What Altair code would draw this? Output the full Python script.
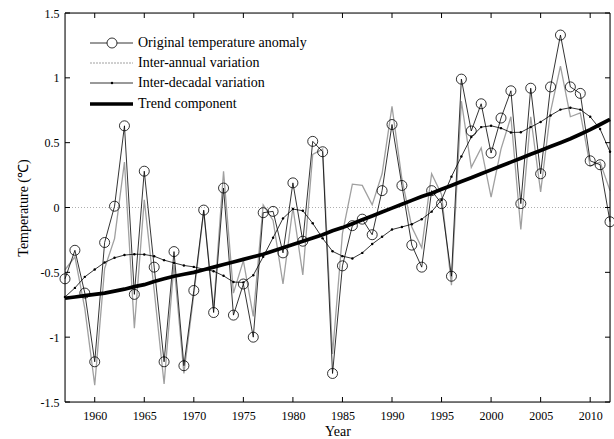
import altair as alt
import pandas as pd

years = list(range(1957, 2013))

original = [-0.55, -0.33, -0.66, -1.19, -0.27, 0.01, 0.63, -0.67, 0.28, -0.46,
            -1.19, -0.34, -1.22, -0.64, -0.02, -0.81, 0.15, -0.83, -0.59, -1.00,
            -0.04, -0.03, -0.35, 0.19, -0.26, 0.51, 0.43, -1.28, -0.45, -0.14,
            -0.09, -0.21, 0.13, 0.64, 0.17, -0.29, -0.46, 0.13, 0.03, -0.53,
            0.99, 0.59, 0.80, 0.42, 0.69, 0.90, 0.03, 0.92, 0.26, 0.93,
            1.33, 0.93, 0.88, 0.36, 0.33, -0.11]

inter_annual = [-0.48, -0.38, -0.78, -1.37, -0.47, -0.24, 0.35, -0.93, 0.06, -0.64,
                -1.36, -0.44, -1.28, -0.67, -0.03, -0.78, 0.28, -0.66, -0.41, -0.84,
                0.02, -0.10, -0.59, 0.00, -0.52, 0.41, 0.45, -1.13, -0.20, 0.18,
                0.17, 0.02, 0.26, 0.78, 0.22, -0.15, -0.31, 0.26, 0.10, -0.60,
                0.82, 0.31, 0.46, 0.08, 0.45, 0.70, -0.17, 0.70, 0.12, 0.74,
                1.09, 0.70, 0.73, 0.32, 0.35, 0.13]

inter_decadal = [-0.69, -0.62, -0.535, -0.478, -0.424, -0.388, -0.367, -0.36, -0.362, -0.376,
                 -0.406, -0.427, -0.447, -0.458, -0.476, -0.491, -0.527, -0.575, -0.578, -0.522,
                 -0.38, -0.233, -0.084, -0.012, -0.025, -0.122, -0.238, -0.338, -0.375, -0.393,
                 -0.35, -0.282, -0.226, -0.17, -0.15, -0.129, -0.09, -0.032, 0.058, 0.238,
                 0.393, 0.543, 0.62, 0.63, 0.612, 0.579, 0.58, 0.62, 0.66, 0.71,
                 0.755, 0.77, 0.755, 0.70, 0.605, 0.43]

trend = [-0.70, -0.69, -0.68, -0.67, -0.66, -0.645, -0.63, -0.61, -0.595, -0.57,
         -0.55, -0.53, -0.515, -0.50, -0.48, -0.46, -0.44, -0.42, -0.40, -0.38,
         -0.36, -0.335, -0.31, -0.285, -0.26, -0.235, -0.21, -0.18, -0.155, -0.125,
         -0.095, -0.065, -0.035, -0.005, 0.025, 0.055, 0.085, 0.11, 0.14, 0.17,
         0.20, 0.23, 0.26, 0.29, 0.32, 0.35, 0.38, 0.41, 0.44, 0.47,
         0.50, 0.53, 0.565, 0.60, 0.64, 0.68]

legend_labels = ["Original temperature anomaly", "Inter-annual variation",
                 "Inter-decadal variation", "Trend component"]

x_ticks = [1960, 1965, 1970, 1975, 1980, 1985, 1990, 1995, 2000, 2005, 2010]
y_ticks = [-1.5, -1.0, -0.5, 0.0, 0.5, 1.0, 1.5]

W, H = 545, 389
FONT = "Liberation Serif"

df = pd.DataFrame({"year": years, "orig": original, "ia": inter_annual,
                   "idv": inter_decadal, "trend": trend})

xscale = alt.Scale(domain=[1957, 2012], nice=False, zero=False)
yscale = alt.Scale(domain=[-1.5, 1.5], nice=False, zero=False)

xaxis = alt.Axis(values=x_ticks, format="d", ticks=False, domain=False, grid=False,
                 labelFont=FONT, labelFontSize=12, labelPadding=8, labelColor="black",
                 title="Year", titleFont=FONT, titleFontSize=14, titleFontWeight="normal",
                 titlePadding=3, titleColor="black")
yaxis = alt.Axis(values=y_ticks, format="~g", ticks=False, domain=False, grid=False,
                 labelExpr="replace(datum.label, '\u2212', '-')",
                 labelFont=FONT, labelFontSize=12, labelPadding=6, labelColor="black",
                 title="Temperature (℃)", titleFont=FONT, titleFontSize=14,
                 titleFontWeight="normal", titlePadding=10, titleColor="black")


def X(field):
    return alt.X(field, scale=xscale, axis=xaxis, title="Year")


def Y(field):
    return alt.Y(field, scale=yscale, axis=yaxis, title="Temperature (℃)")


base = alt.Chart(df).encode(x=X("year:Q"))

zero_df = pd.DataFrame({"z": [0.0]})
zero_line = alt.Chart(zero_df).mark_rule(color="#999999", strokeWidth=0.8,
                                         strokeDash=[1, 2]).encode(y=Y("z:Q"))

gray = base.mark_line(color="#a0a0a0", strokeWidth=1.3).encode(y=Y("ia:Q"))
orig_line = base.mark_line(color="black", strokeWidth=0.8).encode(y=Y("orig:Q"))
orig_pts = base.mark_point(shape="circle", size=100, filled=False, color="black",
                           strokeWidth=0.8, opacity=1).encode(y=Y("orig:Q"))
idv_line = base.mark_line(color="black", strokeWidth=0.8).encode(y=Y("idv:Q"))
idv_pts = base.mark_point(shape="circle", size=6, filled=True, color="black",
                          opacity=1).encode(y=Y("idv:Q"))
trend_line = base.mark_line(color="black", strokeWidth=3.7).encode(y=Y("trend:Q"))

# inward ticks on all four sides
xt = pd.DataFrame({"t": x_ticks})
yt = pd.DataFrame({"t": y_ticks})
tick_b = alt.Chart(xt).mark_rule(color="black", strokeWidth=1).encode(
    x=X("t:Q"), y=alt.value(H), y2=alt.value(H - 5))
tick_t = alt.Chart(xt).mark_rule(color="black", strokeWidth=1).encode(
    x=X("t:Q"), y=alt.value(0), y2=alt.value(5))
tick_l = alt.Chart(yt).mark_rule(color="black", strokeWidth=1).encode(
    y=Y("t:Q"), x=alt.value(0), x2=alt.value(5))
tick_r = alt.Chart(yt).mark_rule(color="black", strokeWidth=1).encode(
    y=Y("t:Q"), x=alt.value(W - 5), x2=alt.value(W))

one = pd.DataFrame({"k": [0]})
frame = alt.Chart(one).mark_rect(fill=None, stroke="black", strokeWidth=1).encode(
    x=alt.value(0), x2=alt.value(W), y=alt.value(0), y2=alt.value(H))

# manual legend
rows_y = [30, 50, 70, 91]
lx1, lx2, lxm, ltx = 25, 68, 47, 73
leg = []
leg.append(alt.Chart(one).mark_rule(color="black", strokeWidth=0.8).encode(
    x=alt.value(lx1), x2=alt.value(lx2), y=alt.value(rows_y[0])))
leg.append(alt.Chart(one).mark_point(shape="circle", size=100, filled=True, fill="white",
                                     stroke="black", strokeWidth=0.8, opacity=1).encode(
    x=alt.value(lxm), y=alt.value(rows_y[0])))
leg.append(alt.Chart(one).mark_rule(color="#a0a0a0", strokeWidth=1, strokeDash=[2, 1]).encode(
    x=alt.value(lx1), x2=alt.value(lx2), y=alt.value(rows_y[1])))
leg.append(alt.Chart(one).mark_rule(color="black", strokeWidth=0.8).encode(
    x=alt.value(lx1), x2=alt.value(lx2), y=alt.value(rows_y[2])))
leg.append(alt.Chart(one).mark_point(shape="circle", size=6, filled=True, color="black",
                                     opacity=1).encode(
    x=alt.value(lxm), y=alt.value(rows_y[2])))
leg.append(alt.Chart(one).mark_rule(color="black", strokeWidth=3.7).encode(
    x=alt.value(lx1), x2=alt.value(lx2), y=alt.value(rows_y[3])))
for lab, ry in zip(legend_labels, rows_y):
    leg.append(alt.Chart(one).mark_text(text=lab, font=FONT, fontSize=14, align="left",
                                        baseline="middle", color="black").encode(
        x=alt.value(ltx), y=alt.value(ry)))

chart = alt.layer(zero_line, gray, orig_line, orig_pts, idv_line, idv_pts, trend_line,
                  tick_b, tick_t, tick_l, tick_r, frame, *leg).properties(
    width=W, height=H,
    padding={"left": 65, "top": 13, "right": 4, "bottom": 37},
    autosize=alt.AutoSizeParams(type="none"),
).configure_view(stroke=None).configure(background="white")

chart.save("out.html", embed_options={"renderer": "svg", "actions": False})
